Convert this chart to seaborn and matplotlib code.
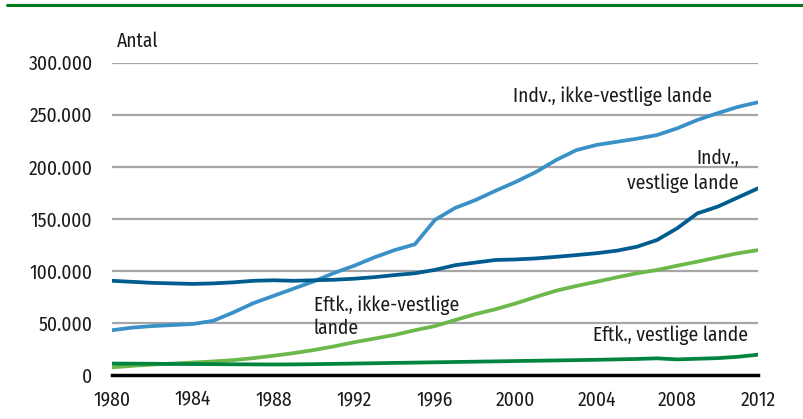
import matplotlib
matplotlib.use("Agg")
import matplotlib.pyplot as plt
from matplotlib.lines import Line2D
from matplotlib.ticker import FuncFormatter
import seaborn as sns
import pandas as pd

years = list(range(1980, 2013))

indv_ikke_vestlige = [43000, 45500, 47000, 48000, 49000, 52000, 60000, 69000, 76000, 83000,
                      90000, 98000, 105000, 113000, 120000, 125500, 149000, 160500, 168000, 177000,
                      185500, 195000, 206500, 216000, 221000, 224000, 227000, 230500, 237000, 245000,
                      251500, 257500, 262000]
indv_vestlige = [90500, 89500, 88500, 88000, 87500, 88000, 89000, 90500, 91000, 90500,
                 91000, 91500, 92500, 94000, 96000, 97700, 101000, 105500, 108000, 110500,
                 111000, 112000, 113500, 115200, 117000, 119400, 123200, 129700, 141000, 155300,
                 161700, 170500, 179300]
eftk_ikke_vestlige = [7400, 8800, 10000, 11000, 12000, 13000, 14300, 16200, 18500, 21000,
                      24000, 27500, 31500, 35000, 38500, 43000, 47000, 52800, 58500, 63200,
                      68800, 75000, 81000, 85500, 89600, 93800, 97700, 100900, 105000, 108900,
                      113000, 116900, 120000]
eftk_vestlige = [11000, 10900, 10800, 10600, 10500, 10400, 10300, 10200, 10100, 10200,
                 10400, 10700, 11000, 11300, 11600, 11900, 12200, 12500, 12800, 13100,
                 13400, 13700, 14000, 14300, 14600, 15000, 15400, 16000, 15000, 15600,
                 16200, 17500, 19500]

series_names = ["Indv., ikke-vestlige lande", "Indv., vestlige lande",
                "Eftk., ikke-vestlige lande", "Eftk., vestlige lande"]
colors = ["#3a91c8", "#005b8f", "#6bb84b", "#00843f"]

frames = []
for name, vals in zip(series_names, [indv_ikke_vestlige, indv_vestlige,
                                     eftk_ikke_vestlige, eftk_vestlige]):
    frames.append(pd.DataFrame({"year": years, "value": vals, "series": name}))
df = pd.concat(frames, ignore_index=True)

sns.set_theme(style="white")
plt.rcParams["font.family"] = ["Fira Sans Condensed", "DejaVu Sans"]
plt.rcParams["font.weight"] = "normal"

fig = plt.figure(figsize=(8.04, 4.19), dpi=100)
ax = fig.add_axes([112 / 804, 44 / 419, 646 / 804, 312.3 / 419])

for y in range(50000, 300001, 50000):
    ax.axhline(y, color="#a6a6a6", lw=1.6, zorder=0)

sns.lineplot(data=df, x="year", y="value", hue="series", palette=dict(zip(series_names, colors)),
             linewidth=2.7, legend=False, ax=ax, zorder=3)

fs = 14
ax.set_xlim(1980, 2012)
ax.set_ylim(0, 300000)
ax.set_xticks(range(1980, 2013, 4))
ax.set_yticks(range(0, 300001, 50000))
ax.yaxis.set_major_formatter(FuncFormatter(lambda v, p: f"{int(v):,}".replace(",", ".")))
ax.tick_params(axis="both", labelsize=fs, length=0, colors="#1a1a1a")
ax.tick_params(axis="y", pad=14)
ax.tick_params(axis="x", pad=11)
ax.set_xlabel("")
ax.set_ylabel("")
for s in ["top", "right", "left"]:
    ax.spines[s].set_visible(False)
ax.spines["bottom"].set_color("black")
ax.spines["bottom"].set_linewidth(2.5)
ax.spines["bottom"].set_zorder(5)

tc = "#1a1a1a"
ax.text(1980.25, 321000, "Antal", fontsize=fs, ha="left", va="center", color=tc)
ax.text(2009.7, 267500, "Indv., ikke-vestlige lande", fontsize=fs, ha="right", va="center", color=tc)
ax.text(2011.05, 208000, "Indv.,", fontsize=fs, ha="right", va="center", color=tc)
ax.text(2011.05, 184500, "vestlige lande", fontsize=fs, ha="right", va="center", color=tc)
ax.text(1990.0, 67000, "Eftk., ikke-vestlige", fontsize=fs, ha="left", va="center", color=tc)
ax.text(1990.0, 44500, "lande", fontsize=fs, ha="left", va="center", color=tc)
ax.text(2011.5, 38500, "Eftk., vestlige lande", fontsize=fs, ha="right", va="center", color=tc)

fig.add_artist(Line2D([7 / 804, 1.0], [1 - 5 / 419, 1 - 5 / 419], color="#007a1e", lw=2.2,
                      transform=fig.transFigure))

fig.savefig("out.png", dpi=100)
